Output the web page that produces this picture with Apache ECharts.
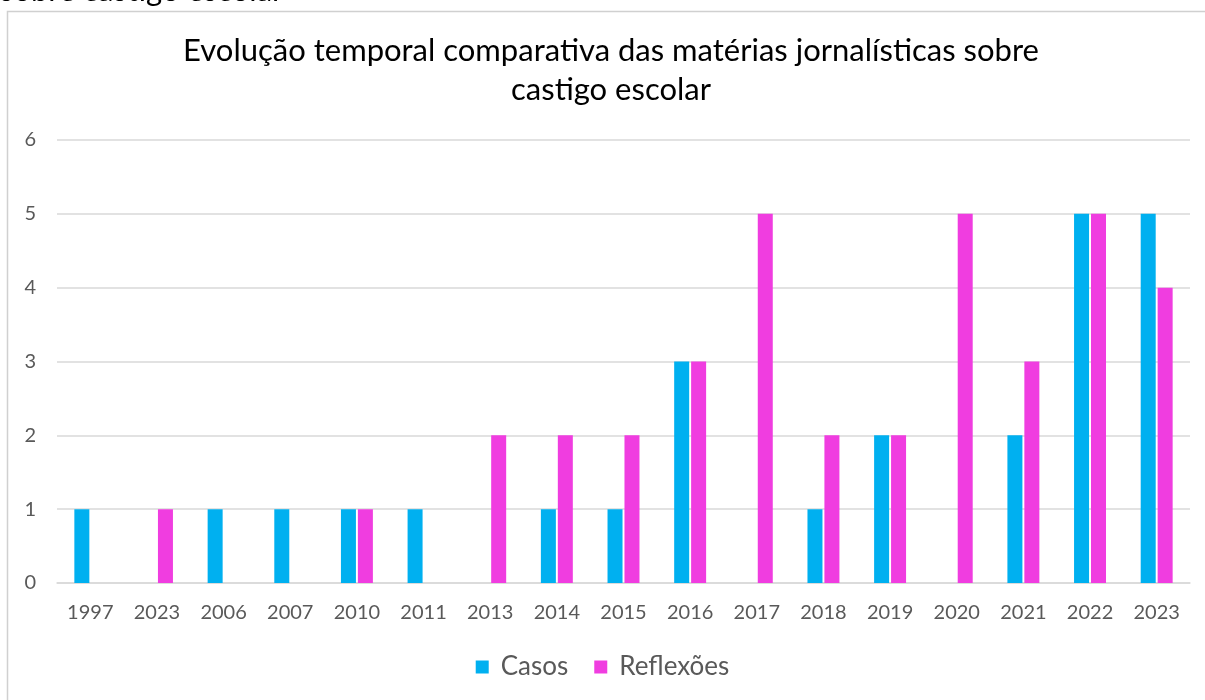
<!DOCTYPE html>
<html>
<head>
<meta charset="utf-8">
<script src="https://cdn.jsdelivr.net/npm/echarts@6/dist/echarts.min.js"></script>
<style>
  html, body { margin: 0; padding: 0; background: #fff; }
  #chart { width: 1205px; height: 700px; }
</style>
</head>
<body>
<div id="chart"></div>
<script>
// dados
const anos = ['1997', '2023', '2006', '2007', '2010', '2011', '2013', '2014', '2015',
  '2016', '2017', '2018', '2019', '2020', '2021', '2022', '2023'];
const casos = [1, 0, 1, 1, 1, 1, 0, 1, 1, 3, 0, 1, 2, 0, 2, 5, 5];
const reflexoes = [0, 1, 0, 0, 1, 0, 2, 2, 2, 3, 5, 2, 2, 5, 3, 5, 4];
const yTicks = [0, 1, 2, 3, 4, 5, 6];

const titulo = 'Evolução temporal comparativa das matérias jornalísticas sobre\ncastigo escolar';
const fonte = 'Lato, "Open Sans", sans-serif';
const cinza = '#595959';

const myChart = echarts.init(document.getElementById('chart'));
const option = {
  animation: false,
  backgroundColor: '#fff',
  graphic: [
    // moldura do gráfico
    {
      type: 'rect',
      shape: { x: 7.5, y: 11.5, width: 1205, height: 700 },
      style: { fill: 'none', stroke: '#d0d0d0', lineWidth: 1.5 },
      silent: true
    },
    // texto cortado no topo da imagem
    {
      type: 'text',
      x: 0,
      y: -25,
      style: { text: 'sobre castigo escolar', font: '31px ' + fonte, fill: '#000' }
    },
    // título
    {
      type: 'text',
      x: 611,
      y: 31,
      style: {
        text: titulo,
        font: '31px ' + fonte,
        fill: '#000',
        textAlign: 'center',
        lineHeight: 39
      }
    }
  ],
  legend: {
    bottom: 15,
    left: 'center',
    itemWidth: 13,
    itemHeight: 13,
    itemGap: 26,
    icon: 'rect',
    textStyle: { fontFamily: fonte, fontSize: 26, color: cinza, padding: [0, 0, 0, 7] }
  },
  grid: {
    left: 57,
    right: 15,
    top: 140,
    bottom: 117
  },
  xAxis: {
    type: 'category',
    data: anos,
    axisLine: { lineStyle: { color: '#d9d9d9', width: 1.5 } },
    axisTick: { show: false },
    axisLabel: { fontFamily: fonte, fontSize: 20, color: cinza, margin: 20, interval: 0 }
  },
  yAxis: {
    type: 'value',
    min: yTicks[0],
    max: yTicks[yTicks.length - 1],
    interval: 1,
    axisLine: { show: false },
    axisTick: { show: false },
    axisLabel: { fontFamily: fonte, fontSize: 20, color: cinza, margin: 21 },
    splitLine: { lineStyle: { color: '#d9d9d9', width: 1.5 } }
  },
  series: [
    {
      name: 'Casos',
      type: 'bar',
      data: casos,
      barWidth: 15,
      barGap: '13%',
      itemStyle: { color: '#00b0f0' }
    },
    {
      name: 'Reflexões',
      type: 'bar',
      data: reflexoes,
      barWidth: 15,
      itemStyle: { color: '#f03de0' }
    }
  ]
};
myChart.setOption(option);
</script>
</body>
</html>
